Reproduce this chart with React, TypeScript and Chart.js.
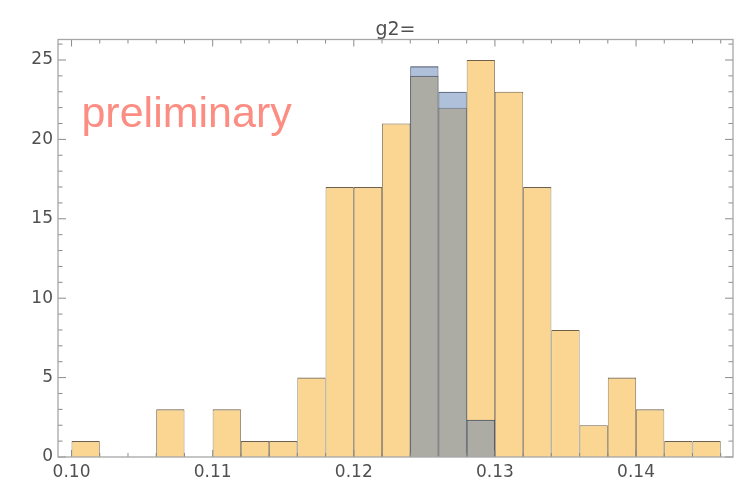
import { useEffect, useRef } from "react";
import { Chart, registerables } from "chart.js";

Chart.register(...registerables);

// Histogram bins (left edges, width 0.002)
const binWidth = 0.002;
const orangeBinStarts = [
  0.100, 0.102, 0.104, 0.106, 0.108, 0.110, 0.112, 0.114, 0.116, 0.118, 0.120, 0.122,
  0.124, 0.126, 0.128, 0.130, 0.132, 0.134, 0.136, 0.138, 0.140, 0.142, 0.144,
];
const orangeCounts = [1, 0, 0, 3, 0, 3, 1, 1, 5, 17, 17, 21, 24, 22, 25, 23, 17, 8, 2, 5, 3, 1, 1];

const blueBinStarts = [0.124, 0.126, 0.128];
const blueCounts = [24.6, 23.0, 2.35];

const xTickValues = [0.10, 0.11, 0.12, 0.13, 0.14];
const yTickValues = [0, 5, 10, 15, 20, 25];

const titleText = "g2=";
const watermarkText = "preliminary";

const TICK_FONT = "'DejaVu Sans', sans-serif";
const TEXT_GREY = "#505050";

const framePlugin = {
  id: "frameTicks",
  afterDraw(chart: any) {
    const { ctx, chartArea: a, scales } = chart;
    const x = scales.x;
    const y = scales.y;
    ctx.save();

    // inward tick marks on all four sides
    ctx.strokeStyle = "#8a8a8a";
    ctx.lineWidth = 1;
    ctx.beginPath();
    const firstEdge = orangeBinStarts[0];
    const nEdges = orangeBinStarts.length + 1;
    for (let i = 0; i < nEdges; i++) {
      const v = firstEdge + i * binWidth;
      const px = x.getPixelForValue(v);
      const len = i % 5 === 0 ? 7 : 4;
      ctx.moveTo(px, a.bottom);
      ctx.lineTo(px, a.bottom - len);
      ctx.moveTo(px, a.top);
      ctx.lineTo(px, a.top + len);
    }
    for (let v = 0; v <= Math.floor(y.max); v++) {
      const py = y.getPixelForValue(v);
      const len = v % 5 === 0 ? 8 : 4.5;
      ctx.moveTo(a.left, py);
      ctx.lineTo(a.left + len, py);
      ctx.moveTo(a.right, py);
      ctx.lineTo(a.right - len, py);
    }
    ctx.stroke();

    // frame
    ctx.strokeStyle = "#a6a6a6";
    ctx.lineWidth = 1.3;
    ctx.strokeRect(a.left, a.top, a.right - a.left, a.bottom - a.top);

    // title
    ctx.fillStyle = TEXT_GREY;
    ctx.font = `19px ${TICK_FONT}`;
    ctx.textAlign = "center";
    ctx.textBaseline = "alphabetic";
    ctx.fillText(titleText, (a.left + a.right) / 2, a.top - 4.5);

    // watermark
    ctx.fillStyle = "rgb(252, 141, 130)";
    ctx.font = "43px 'Liberation Sans', Arial, sans-serif";
    ctx.textAlign = "left";
    ctx.fillText(watermarkText, x.getPixelForValue(0.1007), y.getPixelForValue(20.8));

    ctx.restore();
  },
};

export default function App() {
  const canvasRef = useRef<HTMLCanvasElement | null>(null);

  useEffect(() => {
    document.body.style.margin = "0";
    const canvas = canvasRef.current;
    if (!canvas) return;

    const edge = { top: 1.1, left: 0.8, right: 0.8, bottom: 0 };

    const chart = new Chart(canvas, {
      type: "bar",
      data: {
        datasets: [
          {
            label: "blue",
            data: blueBinStarts.map((s, i) => ({ x: s + binWidth / 2, y: blueCounts[i] })),
            backgroundColor: "rgba(94, 129, 181, 0.5)",
            borderColor: "rgb(58, 68, 92)",
            borderWidth: edge,
            grouped: false,
            order: 0,
          } as any,
          {
            label: "orange",
            data: orangeBinStarts.map((s, i) => ({ x: s + binWidth / 2, y: orangeCounts[i] })),
            backgroundColor: "rgb(250, 214, 146)",
            borderColor: "rgb(112, 96, 72)",
            borderWidth: edge,
            grouped: false,
            order: 1,
          } as any,
        ],
      },
      options: {
        responsive: false,
        animation: false,
        layout: { padding: { top: 39.5, right: 14, left: 0, bottom: 0 } },
        datasets: {
          bar: {
            barPercentage: 1,
            categoryPercentage: 1,
            inflateAmount: 0,
            borderSkipped: false,
          },
        } as any,
        plugins: {
          legend: { display: false },
          tooltip: { enabled: false },
          title: { display: false },
        },
        scales: {
          x: {
            type: "linear",
            offset: false,
            min: 0.09904,
            max: 0.14687,
            afterFit: (s: any) => {
              s.height = 28;
            },
            afterBuildTicks: (s: any) => {
              s.ticks = xTickValues.map((v) => ({ value: v }));
            },
            grid: { display: false, drawTicks: false, offset: false },
            border: { display: false },
            ticks: {
              padding: 5,
              color: TEXT_GREY,
              font: { family: TICK_FONT, size: 17 },
              maxRotation: 0,
              autoSkip: false,
              callback: (v: any) => Number(v).toFixed(2),
            },
          },
          y: {
            type: "linear",
            min: 0,
            max: 26.29,
            afterFit: (s: any) => {
              s.width = 58;
            },
            afterBuildTicks: (s: any) => {
              s.ticks = yTickValues.map((v) => ({ value: v }));
            },
            grid: { display: false, drawTicks: false },
            border: { display: false },
            ticks: {
              padding: 5,
              color: TEXT_GREY,
              font: { family: TICK_FONT, size: 17 },
              autoSkip: false,
              callback: (v: any) => String(v),
            },
          },
        },
      },
      plugins: [framePlugin],
    });

    return () => chart.destroy();
  }, []);

  return (
    <div style={{ width: 747, height: 485, background: "#ffffff" }}>
      <canvas ref={canvasRef} width={747} height={485} style={{ display: "block" }} />
    </div>
  );
}
